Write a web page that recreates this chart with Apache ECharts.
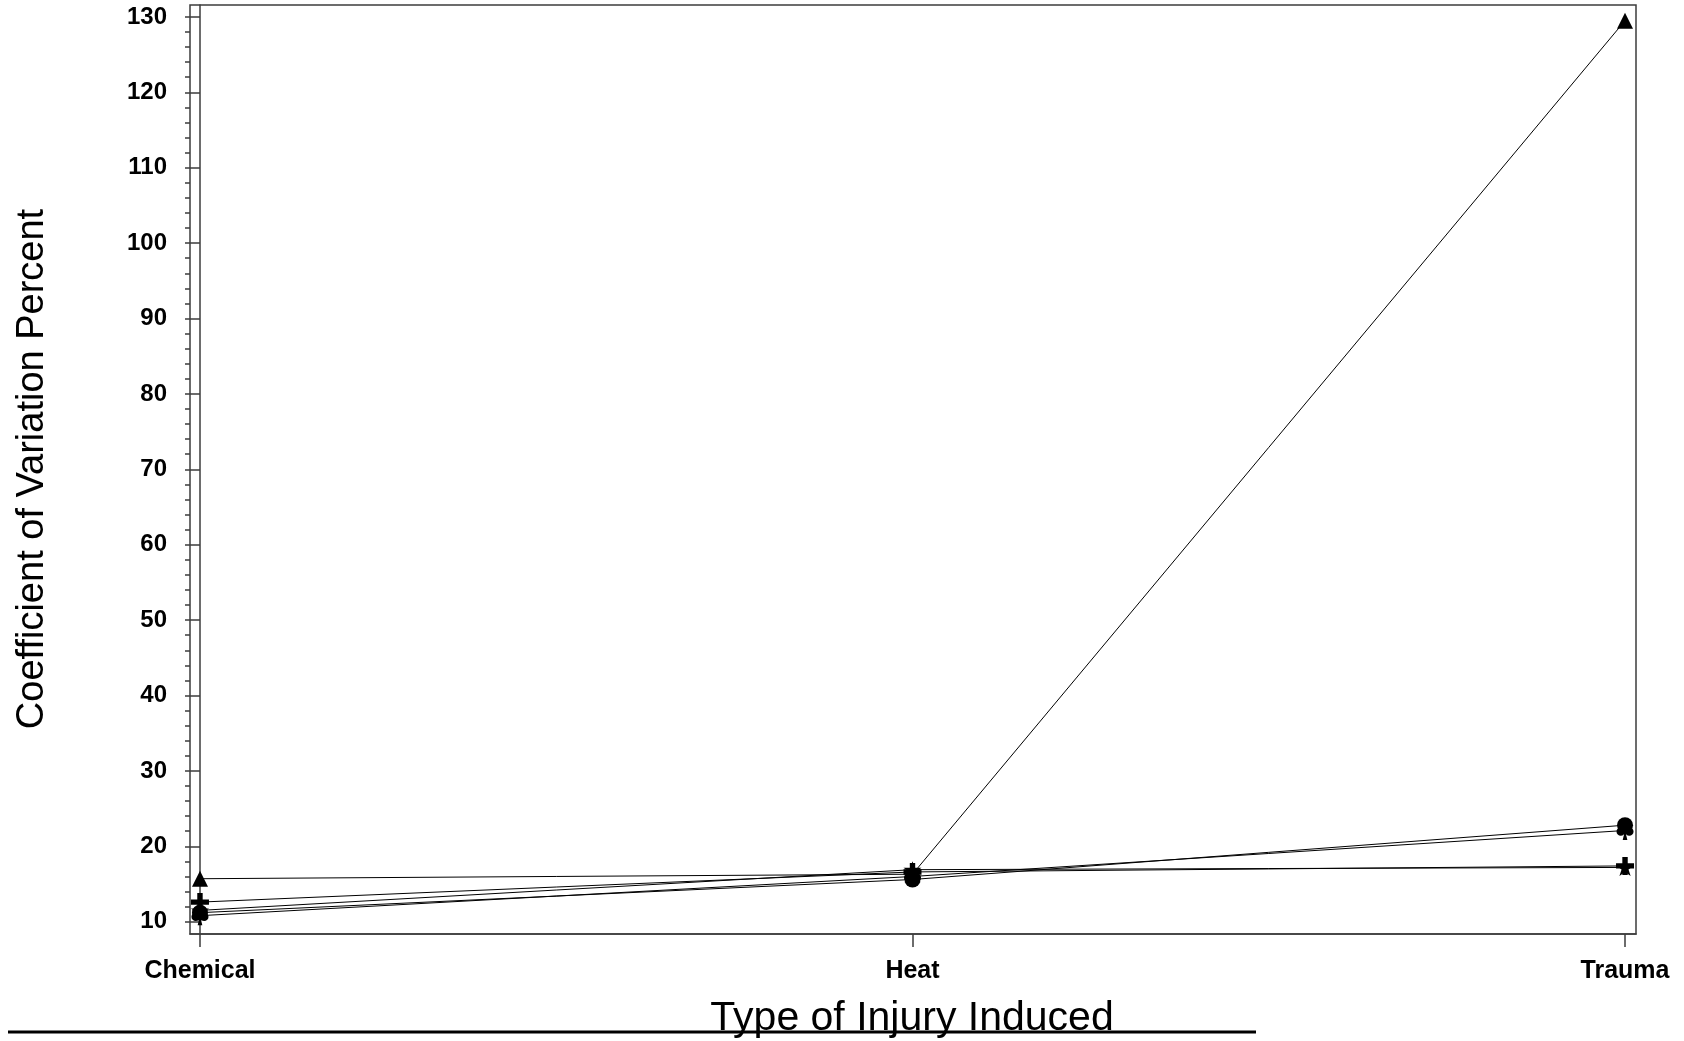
<!DOCTYPE html>
<html>
<head>
<meta charset="utf-8">
<title>Coefficient of Variation by Type of Injury</title>
<script src="https://cdn.jsdelivr.net/npm/echarts@6/dist/echarts.min.js"></script>
<style>
  html, body { margin: 0; padding: 0; background: #fff; }
  #chart { width: 1684px; height: 1041px; }
</style>
</head>
<body>
<div id="chart"></div>
<script>
// Injury types along the x axis
const categories = ['Chemical', 'Heat', 'Trauma'];

// Coefficient of variation (%) per group, one value per injury type
const triangleValues = [15.7, 16.3, 129.5];
const crossValues    = [12.6, 16.6, 17.4];
const starValues     = [11.5, 16.9, 17.2];
const circleValues   = [11.2, 15.6, 22.8];
const clubValues     = [10.8, 16.0, 22.1];

// Labelled y ticks and the finer unlabelled ticks between them
const yTickLabels = [10, 20, 30, 40, 50, 60, 70, 80, 90, 100, 110, 120, 130];
const yMinorTicks = [10, 12, 14, 16, 18, 20, 22, 24, 26, 28, 30, 32, 34, 36, 38, 40,
  42, 44, 46, 48, 50, 52, 54, 56, 58, 60, 62, 64, 66, 68, 70, 72, 74, 76, 78, 80,
  82, 84, 86, 88, 90, 92, 94, 96, 98, 100, 102, 104, 106, 108, 110, 112, 114, 116,
  118, 120, 122, 124, 126, 128, 130];

const FRAME = '#3c3c3c';
const FONT = "'Liberation Sans', Arial, Helvetica, sans-serif";

const SYMBOL_CROSS = 'path://M3.5,0H6.5V3.5H10V6.5H6.5V10H3.5V6.5H0V3.5H3.5Z';
const SYMBOL_STAR = 'path://M50,0L61.8,35.5H99L69,57.5L80.5,93L50,71L19.5,93L31,57.5L1,35.5H38.2Z';
const SYMBOL_CLUB = 'path://M28,24A22,22 0 1,1 72,24A22,22 0 1,1 28,24Z' +
  'M6,56A22,22 0 1,1 50,56A22,22 0 1,1 6,56Z' +
  'M50,56A22,22 0 1,1 94,56A22,22 0 1,1 50,56Z' +
  'M50,50L62,100L38,100Z';

function pairs(values) {
  return values.map((v, i) => [i, v]);
}

function lineSeries(name, values, symbol, size) {
  return {
    name: name,
    type: 'line',
    data: pairs(values),
    symbol: symbol,
    symbolSize: size,
    symbolKeepAspect: true,
    showSymbol: true,
    lineStyle: { color: '#000', width: 1 },
    itemStyle: { color: '#000', borderWidth: 0 },
    emphasis: { disabled: true },
    animation: false
  };
}

const chart = echarts.init(document.getElementById('chart'), null, { renderer: 'canvas' });

chart.setOption({
  backgroundColor: '#fff',
  animation: false,
  grid: {
    left: 190, top: 5, width: 1446, height: 929,
    show: true, borderColor: FRAME, borderWidth: 1.5, backgroundColor: 'transparent'
  },
  xAxis: {
    type: 'value',
    min: -0.014, max: 2.0154,
    splitLine: { show: false },
    axisLine: { show: true, lineStyle: { color: FRAME, width: 1.5 } },
    axisTick: { show: true, length: 13, customValues: [0, 1, 2], lineStyle: { color: FRAME, width: 1.5 } },
    axisLabel: {
      customValues: [0, 1, 2],
      formatter: v => categories[Math.round(v)],
      color: '#000', fontFamily: FONT, fontWeight: 'bold', fontSize: 25, margin: 25
    }
  },
  yAxis: [
    {
      type: 'value',
      min: 8.37, max: 131.58,
      splitLine: { show: false },
      axisLine: { show: true, lineStyle: { color: FRAME, width: 1.5 } },
      axisTick: { show: true, length: 10, customValues: yTickLabels, lineStyle: { color: FRAME, width: 1.5 } },
      axisLabel: {
        customValues: yTickLabels,
        color: '#000', fontFamily: FONT, fontWeight: 'bold', fontSize: 24, margin: 23
      }
    },
    {
      type: 'value',
      min: 8.37, max: 131.58,
      position: 'left',
      splitLine: { show: false },
      axisLine: { show: false },
      axisTick: { show: true, length: 5, customValues: yMinorTicks, lineStyle: { color: FRAME, width: 1.5 } },
      axisLabel: { show: false }
    }
  ],
  graphic: [
    {
      type: 'text',
      x: 33, y: 469,
      rotation: Math.PI / 2,
      style: {
        text: 'Coefficient of Variation Percent',
        fill: '#000', font: "38px 'Liberation Sans', Arial, sans-serif",
        align: 'center', verticalAlign: 'middle'
      }
    },
    {
      type: 'text',
      x: 912, y: 1019,
      style: {
        text: 'Type of Injury Induced',
        fill: '#000', font: "41px 'Liberation Sans', Arial, sans-serif",
        align: 'center', verticalAlign: 'middle'
      }
    },
    {
      type: 'line',
      shape: { x1: 8, y1: 1032, x2: 1256, y2: 1032 },
      style: { stroke: '#000', lineWidth: 3 }
    }
  ],
  series: [
    lineSeries('Triangle', triangleValues, 'triangle', 16),
    lineSeries('Cross', crossValues, SYMBOL_CROSS, 18),
    lineSeries('Star', starValues, SYMBOL_STAR, 18),
    lineSeries('Circle', circleValues, 'circle', 16),
    lineSeries('Club', clubValues, SYMBOL_CLUB, 19)
  ]
});
</script>
</body>
</html>
